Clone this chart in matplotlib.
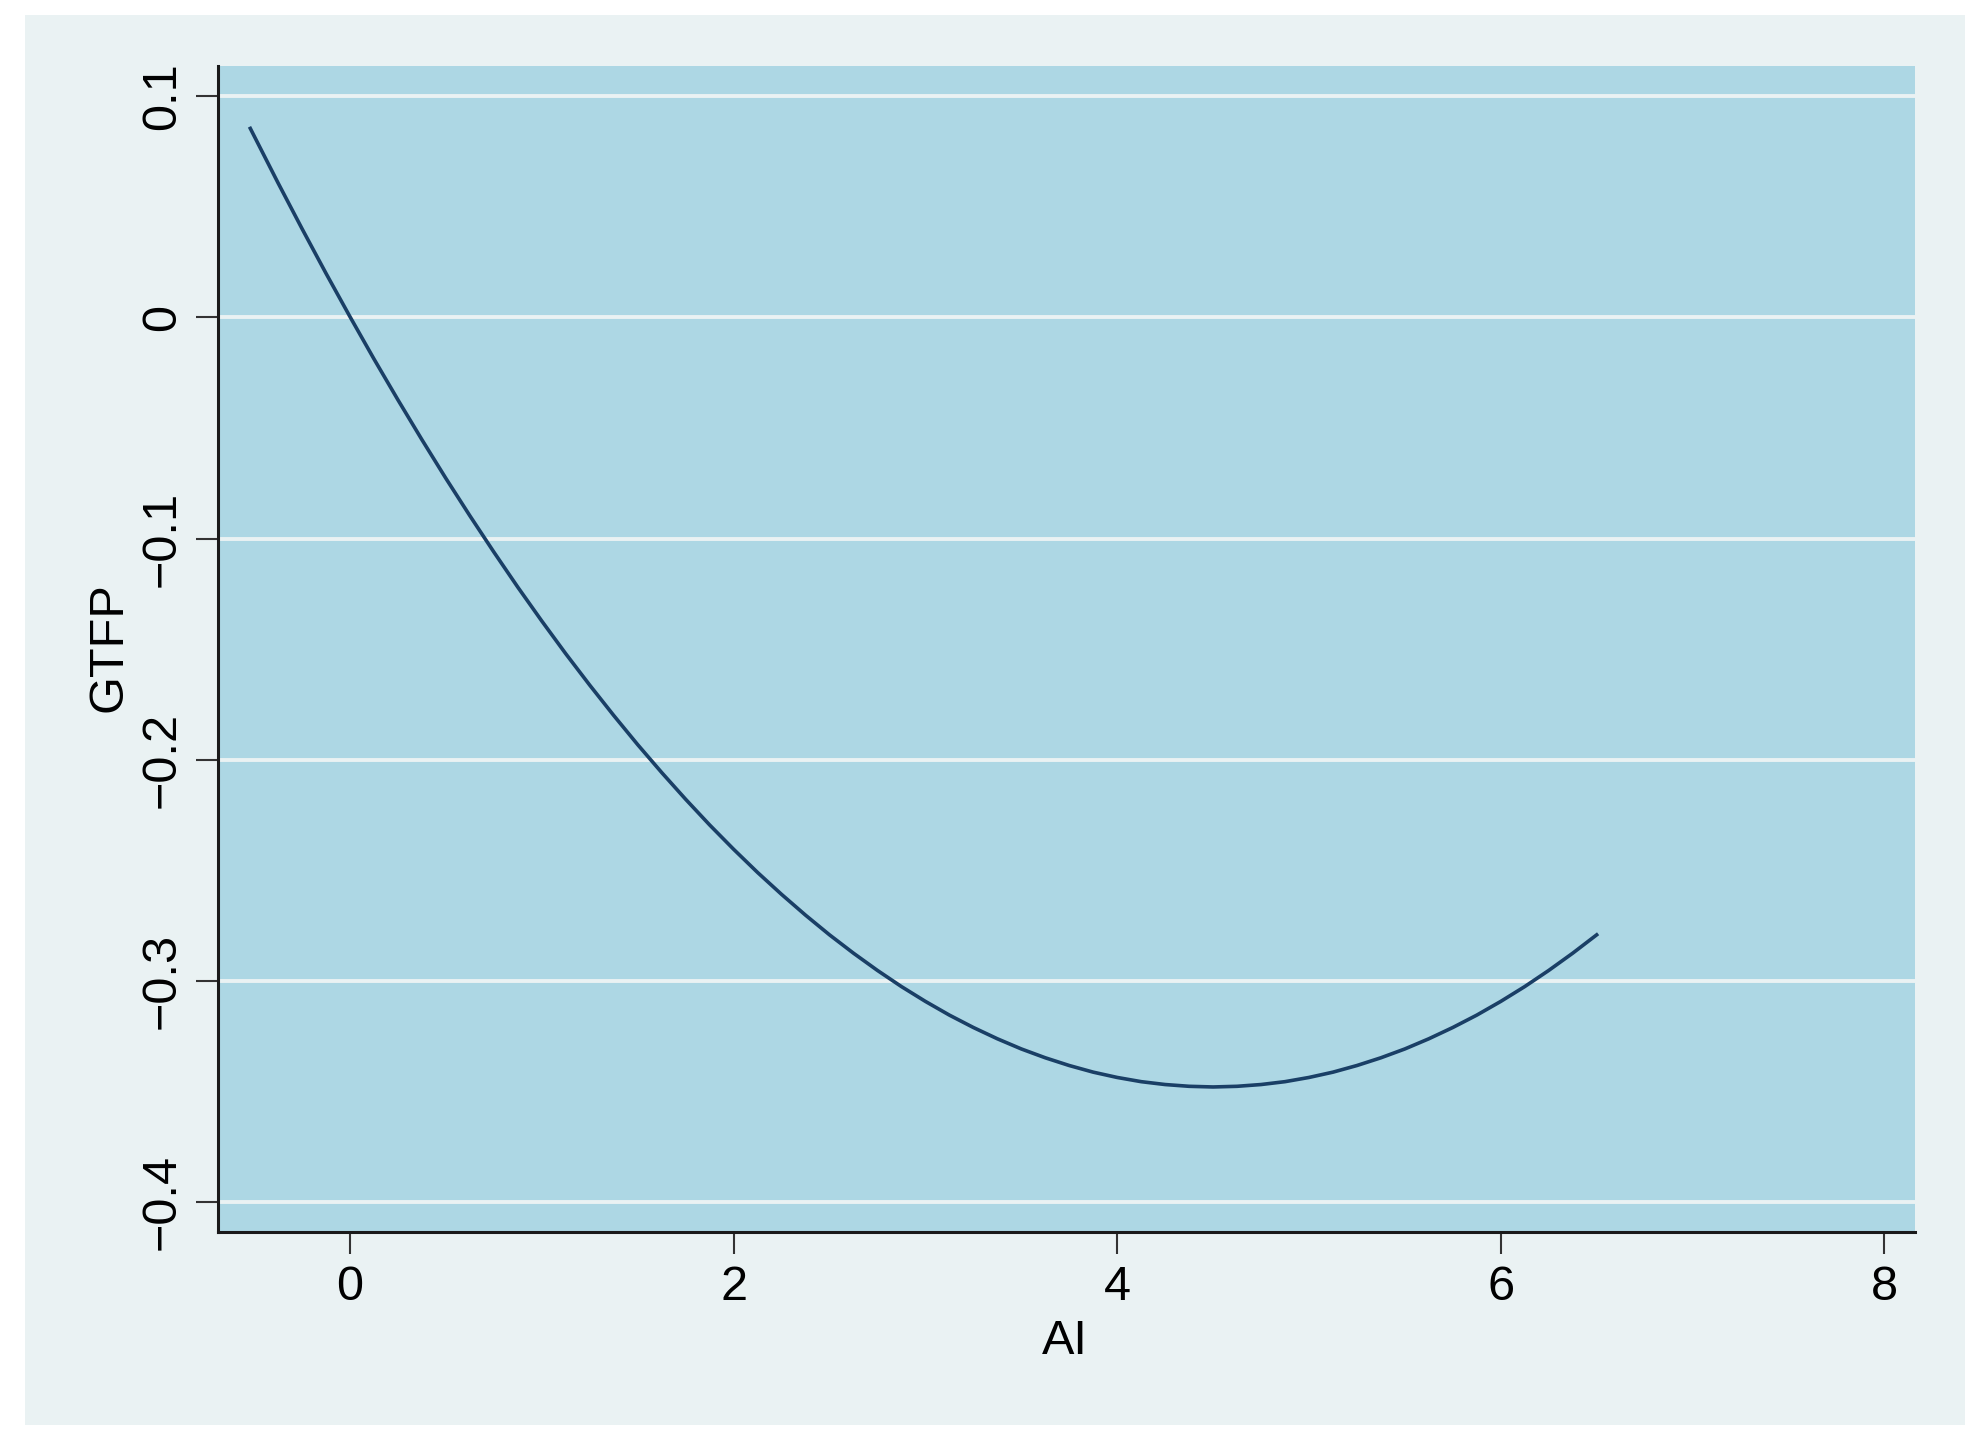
import matplotlib
matplotlib.use("Agg")
import matplotlib.pyplot as plt
from matplotlib.patches import Rectangle

# values
ai = [-0.52, -0.375, -0.25, -0.125, 0.0, 0.125, 0.25, 0.375, 0.5, 0.625, 0.75, 0.875,
      1.0, 1.125, 1.25, 1.375, 1.5, 1.625, 1.75, 1.875, 2.0, 2.125, 2.25, 2.375,
      2.5, 2.625, 2.75, 2.875, 3.0, 3.125, 3.25, 3.375, 3.5, 3.625, 3.75, 3.875,
      4.0, 4.125, 4.25, 4.375, 4.5, 4.625, 4.75, 4.875, 5.0, 5.125, 5.25, 5.375,
      5.5, 5.625, 5.75, 5.875, 6.0, 6.125, 6.25, 6.375, 6.5]
gtfp = [0.0855, 0.0608, 0.0401, 0.0199, 0.0003, -0.0188, -0.0373, -0.0553, -0.0728,
        -0.0897, -0.1061, -0.1220, -0.1373, -0.1521, -0.1663, -0.1800, -0.1932,
        -0.2058, -0.2179, -0.2295, -0.2405, -0.2510, -0.2609, -0.2703, -0.2792,
        -0.2875, -0.2953, -0.3026, -0.3093, -0.3155, -0.3211, -0.3262, -0.3308,
        -0.3348, -0.3383, -0.3413, -0.3437, -0.3456, -0.3469, -0.3477, -0.3480,
        -0.3477, -0.3469, -0.3456, -0.3437, -0.3413, -0.3383, -0.3348, -0.3308,
        -0.3262, -0.3211, -0.3155, -0.3093, -0.3026, -0.2953, -0.2875, -0.2792]

xticks = [0, 2, 4, 6, 8]
yticks = [0.1, 0.0, -0.1, -0.2, -0.3, -0.4]
ytick_labels = ["0.1", "0", "\u22120.1", "\u22120.2", "\u22120.3", "\u22120.4"]

plt.rcParams['font.family'] = ['Liberation Sans', 'DejaVu Sans']

outer_bg = "#EAF2F3"
plot_bg = "#ADD7E4"
line_col = "#1A3F66"

fig = plt.figure(figsize=(19.88, 14.52), dpi=100, facecolor="white")
fig.patches.append(Rectangle((0.0126, 0.0186), 0.9759, 0.9711, transform=fig.transFigure,
                             facecolor=outer_bg, edgecolor="none", zorder=-10))

ax = fig.add_axes([0.1097, 0.1515, 0.8536, 0.803])
ax.set_facecolor(plot_bg)

for y in yticks:
    ax.axhline(y, color=outer_bg, lw=2.8, zorder=1)

ax.plot(ai, gtfp, color=line_col, lw=2.6, zorder=3, solid_joinstyle="round")

ax.set_xlim(-0.688, 8.16)
ax.set_ylim(-0.4136, 0.1137)

ax.set_xticks(xticks)
ax.set_xticklabels([str(t) for t in xticks])
ax.set_yticks(yticks)
ax.set_yticklabels(ytick_labels, rotation=90, va="center")

ax.tick_params(axis="both", direction="out", length=16, width=1.5, color="#333333",
               labelsize=35, pad=8)

for s in ["top", "right"]:
    ax.spines[s].set_visible(False)
for s in ["left", "bottom"]:
    ax.spines[s].set_linewidth(2.2)
    ax.spines[s].set_color("#1a1a1a")

ax.set_xlabel("AI", fontsize=35)
ax.set_ylabel("GTFP", fontsize=35)
ax.xaxis.set_label_coords(0.499, -0.0935)
ax.xaxis.label.set_va("center")
ax.yaxis.set_label_coords(-0.0642, 0.502)
ax.yaxis.label.set_va("center")

fig.savefig("out.png", dpi=100, facecolor="white")
